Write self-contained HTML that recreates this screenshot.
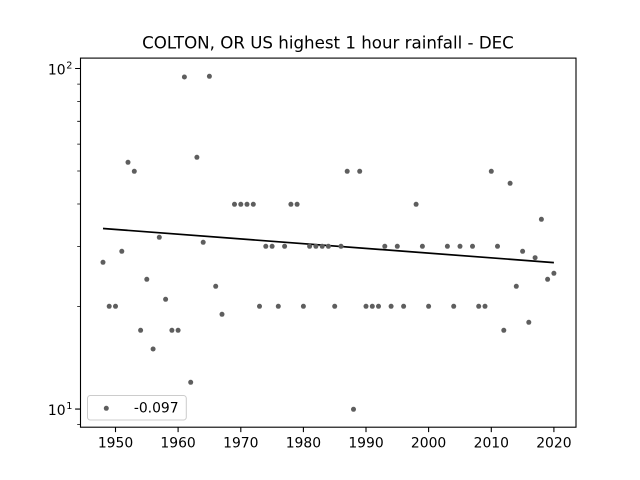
<!DOCTYPE html>
<html>
<head>
<meta charset="utf-8">
<style>
  html, body { margin: 0; padding: 0; background: #ffffff; }
  svg { display: block; }
  text { font-family: "DejaVu Sans", "Liberation Sans", sans-serif; fill: #000; }
</style>
</head>
<body>
<svg width="640" height="480" viewBox="0 0 640 480" xmlns="http://www.w3.org/2000/svg">
  <defs>
    <marker id="dot" markerUnits="userSpaceOnUse" markerWidth="6" markerHeight="6" refX="3" refY="3" viewBox="0 0 6 6" overflow="visible">
      <circle cx="3" cy="3" r="2.5" fill="#5e5e5e"/>
    </marker>
  </defs>
  <rect x="0" y="0" width="640" height="480" fill="#ffffff"/>
  <text x="328" y="48.3" font-size="16.67" text-anchor="middle">COLTON, OR US highest 1 hour rainfall - DEC</text>
  <line x1="103.0" y1="228.5" x2="553.9" y2="262.6" stroke="#000" stroke-width="1.7"/>
  <polyline fill="none" stroke="none" marker-start="url(#dot)" marker-mid="url(#dot)" marker-end="url(#dot)"
    points="103.0,262.3 109.2,306.3 115.5,306.3 121.8,251.3 128.0,162.3 134.3,171.3 140.6,330.3 146.8,279.3 153.1,349.0 159.3,237.3 165.6,299.3 171.9,330.3 178.1,330.3 184.4,77.0 190.7,382.3 196.9,157.3 203.2,242.3 209.4,76.3 215.7,286.3 222.0,314.3 234.5,204.3 240.8,204.3 247.0,204.3 253.3,204.3 259.5,306.3 265.8,246.3 272.1,246.3 278.3,306.3 284.6,246.3 290.9,204.3 297.1,204.3 303.4,306.3 309.6,246.3 315.9,246.3 322.2,246.3 328.4,246.3 334.7,306.3 341.0,246.3 347.2,171.3 353.5,409.3 359.7,171.3 366.0,306.3 372.3,306.3 378.5,306.3 384.8,246.3 391.1,306.3 397.3,246.3 403.6,306.3 416.1,204.3 422.4,246.3 428.6,306.3 447.4,246.3 453.7,306.3 460.0,246.3 472.5,246.3 478.7,306.3 485.0,306.3 491.3,171.3 497.5,246.3 503.8,330.3 510.1,183.3 516.3,286.3 522.6,251.3 528.8,322.3 535.1,257.7 541.4,219.3 547.6,279.3 553.9,273.3"/>
  <rect x="80.5" y="58.1" width="495.5" height="369.1" fill="none" stroke="#000" stroke-width="1.1"/>
  <path stroke="#000" stroke-width="1.1" fill="none"
    d="M115.5 427.2v4.9M178.1 427.2v4.9M240.8 427.2v4.9M303.4 427.2v4.9M366.0 427.2v4.9M428.6 427.2v4.9M491.3 427.2v4.9M553.9 427.2v4.9M80 68.5h-4.9M80 409.1h-4.9"/>
  <path stroke="#000" stroke-width="0.8" fill="none"
    d="M80 424.6h-2.8M80 306.6h-2.8M80 246.6h-2.8M80 204.0h-2.8M80 171.0h-2.8M80 144.1h-2.8M80 121.3h-2.8M80 101.5h-2.8M80 84.1h-2.8"/>
  <g font-size="13.9" text-anchor="middle">
    <text x="115.5" y="447.6">1950</text>
    <text x="178.1" y="447.6">1960</text>
    <text x="240.8" y="447.6">1970</text>
    <text x="303.4" y="447.6">1980</text>
    <text x="366.0" y="447.6">1990</text>
    <text x="428.6" y="447.6">2000</text>
    <text x="491.3" y="447.6">2010</text>
    <text x="553.9" y="447.6">2020</text>
  </g>
  <g font-size="13.9">
    <text x="65.6" y="74.3" text-anchor="end">10</text>
    <text x="66.2" y="68.6" font-size="9.7">2</text>
    <text x="65.6" y="414.9" text-anchor="end">10</text>
    <text x="66.2" y="409.2" font-size="9.7">1</text>
  </g>
  <rect x="87.5" y="395.5" width="98.8" height="24.5" rx="2.8" ry="2.8" fill="#ffffff" fill-opacity="0.8" stroke="#cccccc" stroke-width="1"/>
  <circle cx="106.3" cy="408.3" r="2.5" fill="#5e5e5e"/>
  <text x="178.6" y="412.3" font-size="13.9" text-anchor="end">-0.097</text>
</svg>
</body>
</html>
